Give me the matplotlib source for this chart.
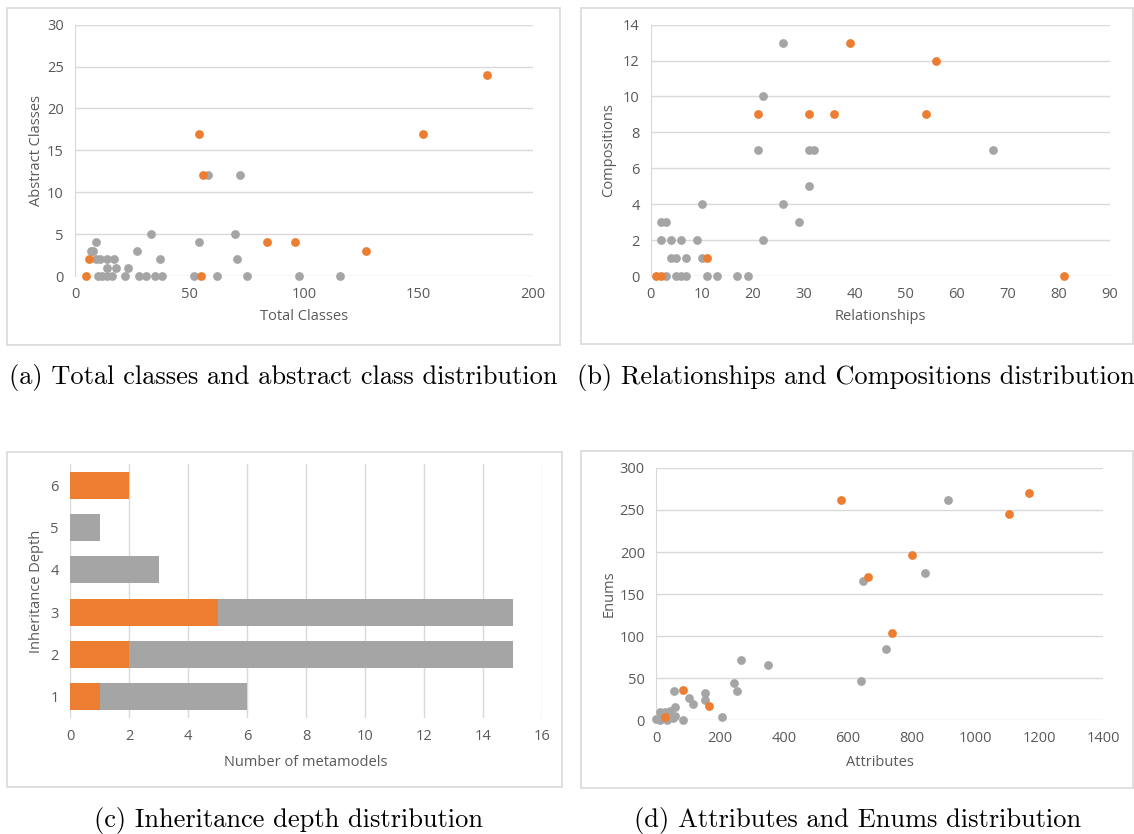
import numpy as np
import matplotlib
matplotlib.use("Agg")
import matplotlib.pyplot as plt
from matplotlib.patches import Rectangle

# --- data ---
# (a) total classes vs abstract classes
a_gray_x = [58, 72, 33, 70, 9, 54, 7, 8, 27, 9, 11, 14, 17, 37, 71, 14, 18, 23,
            10, 12, 14, 16, 22, 28, 31, 35, 38, 52, 62, 75, 98, 116]
a_gray_y = [12, 12, 5, 5, 4, 4, 3, 3, 3, 2, 2, 2, 2, 2, 2, 1, 1, 1,
            0, 0, 0, 0, 0, 0, 0, 0, 0, 0, 0, 0, 0, 0]
a_orange_x = [5, 6, 54, 56, 55, 84, 96, 127, 152, 180]
a_orange_y = [0, 2, 17, 12, 0, 4, 4, 3, 17, 24]

# (b) relationships vs compositions
b_gray_x = [26, 22, 21, 31, 32, 67, 31, 10, 26, 2, 3, 29, 2, 4, 6, 9, 22,
            4, 5, 7, 10, 3, 5, 6, 7, 11, 13, 17, 19]
b_gray_y = [13, 10, 7, 7, 7, 7, 5, 4, 4, 3, 3, 3, 2, 2, 2, 2, 2,
            1, 1, 1, 1, 0, 0, 0, 0, 0, 0, 0, 0]
b_orange_x = [1, 2, 11, 21, 31, 36, 39, 54, 56, 81]
b_orange_y = [0, 0, 1, 9, 9, 9, 13, 9, 12, 0]

# (c) inheritance depth
depths = [1, 2, 3, 4, 5, 6]
depth_orange = [1, 2, 5, 0, 0, 2]
depth_gray = [5, 13, 10, 3, 1, 0]

# (d) attributes vs enums
d_gray_x = [913, 841, 649, 720, 643, 266, 349, 243, 253, 208, 154, 154, 104, 116,
            56, 85, 59, 44, 61, 52, 11, 28, 0, 11, 33, 19]
d_gray_y = [262, 175, 165, 85, 47, 72, 65, 44, 35, 4, 32, 24, 26, 19,
            34, 0, 16, 11, 5, 2, 10, 10, 1, 0, 0, 3]
d_orange_x = [580, 1169, 1104, 800, 664, 740, 86, 165, 28]
d_orange_y = [262, 270, 245, 196, 170, 104, 36, 17, 3]

GRAY = "#A5A5A5"
ORANGE = "#ED7D31"
GRID = "#D9D9D9"
TEXT = "#595959"
W, H = 1134, 834
DOT = 40

plt.rcParams["font.family"] = ["Open Sans", "DejaVu Sans"]
plt.rcParams["font.size"] = 10.5

fig = plt.figure(figsize=(W / 100, H / 100), dpi=100)


def px_axes(left, top, right, bottom):
    return fig.add_axes([left / W, 1 - bottom / H, (right - left) / W, (bottom - top) / H])


def panel_box(left, top, right, bottom):
    fig.patches.append(Rectangle((left / W, 1 - bottom / H), (right - left) / W,
                                 (bottom - top) / H, transform=fig.transFigure,
                                 fill=False, edgecolor=GRID, lw=1.2))


def style_scatter(ax, xmax, xstep, ymax, ystep):
    ax.set_xlim(0, xmax)
    ax.set_ylim(0, ymax)
    ax.set_xticks(np.arange(0, xmax + 1, xstep))
    ax.set_yticks(np.arange(0, ymax + 1, ystep))
    ax.grid(axis="y", color=GRID, lw=1)
    ax.set_axisbelow(True)
    for s in ["top", "right", "bottom"]:
        ax.spines[s].set_visible(False)
    ax.spines["left"].set_color(GRID)
    ax.tick_params(length=0, colors=TEXT, pad=8)
    ax.patch.set_alpha(0)


def set_labels(ax, xlabel, ylabel, xl_y, yl_x):
    ax.set_xlabel(xlabel, color=TEXT)
    ax.set_ylabel(ylabel, color=TEXT)
    ax.xaxis.set_label_coords(0.5, xl_y)
    ax.yaxis.set_label_coords(yl_x, 0.5)
    ax.xaxis.label.set_va("center")
    ax.yaxis.label.set_va("center")


# (a)
panel_box(7, 8, 560, 345)
ax = px_axes(75, 24.7, 532.7, 276)
ax.scatter(a_gray_x, a_gray_y, s=DOT, color=GRAY, lw=0, clip_on=False, zorder=3)
ax.scatter(a_orange_x, a_orange_y, s=DOT, color=ORANGE, lw=0, clip_on=False, zorder=4)
style_scatter(ax, 200, 50, 30, 5)
set_labels(ax, "Total Classes", "Abstract Classes", (276 - 317) / 251.3, (37 - 75) / 457.7)

# (b)
panel_box(581, 8, 1133, 344)
ax = px_axes(650.7, 24.7, 1110, 276)
ax.scatter(b_gray_x, b_gray_y, s=DOT, color=GRAY, lw=0, clip_on=False, zorder=3)
ax.scatter(b_orange_x, b_orange_y, s=DOT, color=ORANGE, lw=0, clip_on=False, zorder=4)
style_scatter(ax, 90, 10, 14, 2)
set_labels(ax, "Relationships", "Compositions", (276 - 317) / 251.3, (609 - 650.7) / 459.3)

# (c)
panel_box(7, 452, 562, 787)
ax = px_axes(70, 464, 542, 718)
ax.barh(depths, depth_orange, height=0.63, color=ORANGE, zorder=3)
ax.barh(depths, depth_gray, left=depth_orange, height=0.63, color=GRAY, zorder=3)
ax.set_xlim(0, 16)
ax.set_ylim(0.5, 6.5)
ax.set_xticks(np.arange(0, 17, 2))
ax.set_yticks(depths)
ax.grid(axis="x", color=GRID, lw=1)
ax.set_axisbelow(True)
for s in ax.spines.values():
    s.set_visible(False)
ax.tick_params(length=0, colors=TEXT, pad=8)
ax.patch.set_alpha(0)
set_labels(ax, "Number of metamodels", "Inheritance Depth", (718 - 762) / 254, (36 - 70) / 472)

# (d)
panel_box(581, 451, 1133, 788)
ax = px_axes(656, 468, 1103.3, 720)
ax.scatter(d_gray_x, d_gray_y, s=DOT, color=GRAY, lw=0, clip_on=False, zorder=3)
ax.scatter(d_orange_x, d_orange_y, s=DOT, color=ORANGE, lw=0, clip_on=False, zorder=4)
style_scatter(ax, 1400, 200, 300, 50)
set_labels(ax, "Attributes", "Enums", (720 - 762) / 252, (609 - 656) / 447.3)

# captions
cap = dict(family=["cmr10", "DejaVu Serif"], fontsize=19, va="center", color="black")
fig.text(283 / W, 1 - 377 / H, "(a) Total classes and abstract class distribution", ha="center", **cap)
fig.text(577 / W, 1 - 377 / H, "(b) Relationships and Compositions distribution", ha="left", **cap)
fig.text(288 / W, 1 - 820 / H, "(c) Inheritance depth distribution", ha="center", **cap)
fig.text(858 / W, 1 - 820 / H, "(d) Attributes and Enums distribution", ha="center", **cap)

fig.savefig("out.png", dpi=100)
